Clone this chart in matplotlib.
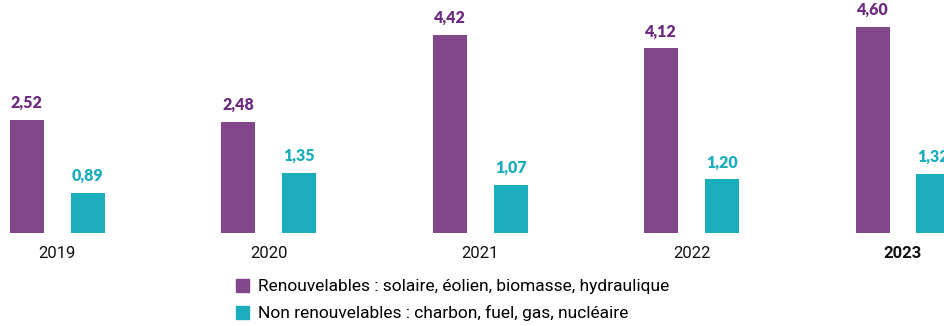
import numpy as np
import matplotlib.pyplot as plt
from matplotlib.patches import Patch

# data
years = ['2019', '2020', '2021', '2022', '2023']
renouv = [2.52, 2.48, 4.42, 4.12, 4.60]
non_renouv = [0.89, 1.35, 1.07, 1.20, 1.32]
labels = ['Renouvelables : solaire, éolien, biomasse, hydraulique',
          'Non renouvelables : charbon, fuel, gas, nucléaire']

purple = '#82468B'
purple_txt = '#6E2C80'
teal = '#1BADBC'

fig = plt.figure(figsize=(9.44, 3.26), dpi=100)
ax = fig.add_axes([0, 1 - 233 / 326, 1, 233 / 326])

x = np.arange(len(years))
w = 0.161
off = 0.144
b1 = ax.bar(x - off, renouv, w, color=purple)
b2 = ax.bar(x + off, non_renouv, w, color=teal)

for bars, vals, c in [(b1, renouv, purple_txt), (b2, non_renouv, teal)]:
    for bar, v in zip(bars, vals):
        ax.annotate(f'{v:.2f}'.replace('.', ','),
                    (bar.get_x() + bar.get_width() / 2, v),
                    xytext=(0, 8.6), textcoords='offset points',
                    ha='center', va='baseline', fontsize=11.5, fontweight='heavy',
                    family='Lato', color=c)

ax.set_xlim(-0.271, 4.194)
ax.set_ylim(0, 5.2)
ax.set_xticks(x)
ax.set_xticklabels(years, family='Roboto', fontsize=12, color='#111111')
ax.get_xticklabels()[-1].set_fontweight('bold')
ax.tick_params(axis='x', length=0, pad=9)
ax.set_yticks([])
for s in ax.spines.values():
    s.set_visible(False)

handles = [Patch(color=purple), Patch(color=teal)]
fig.legend(handles, labels, loc='upper left', bbox_to_anchor=(236 / 944, 1 - 279 / 326),
           frameon=False, handlelength=0.75, handleheight=0.75, handletextpad=0.5,
           labelspacing=0.63, borderpad=0, borderaxespad=0,
           prop={'family': 'Roboto', 'size': 12.5})

plt.savefig('out.png', dpi=100)
